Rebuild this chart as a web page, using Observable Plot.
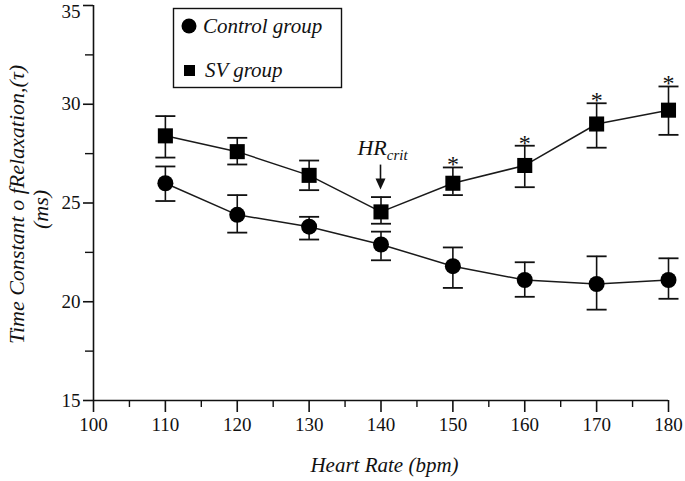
<!DOCTYPE html>
<html>
<head>
<meta charset="utf-8">
<script src="https://cdn.jsdelivr.net/npm/d3@7"></script>
<script src="https://cdn.jsdelivr.net/npm/@observablehq/plot@0.6"></script>
<style>
  html, body { margin: 0; padding: 0; background: #fff; }
  svg { display: block; }
  svg, svg text, svg tspan { font-family: "Liberation Serif", "Times New Roman", Times, serif !important; }
</style>
</head>
<body>
<div id="chart"></div>
<script>
// ---- data ----
const heartRate = [110, 120, 130, 140, 150, 160, 170, 180];
const controlMean = [26.0, 24.4, 23.8, 22.9, 21.8, 21.1, 20.9, 21.1];
const controlLo   = [25.1, 23.5, 23.15, 22.1, 20.7, 20.25, 19.6, 20.15];
const controlHi   = [26.85, 25.4, 24.3, 23.55, 22.75, 22.0, 22.3, 22.2];
const svMean = [28.4, 27.6, 26.4, 24.55, 26.0, 26.9, 29.0, 29.7];
const svLo   = [27.3, 26.95, 25.65, 23.95, 25.4, 25.8, 27.8, 28.45];
const svHi   = [29.4, 28.3, 27.15, 25.3, 26.8, 27.9, 30.05, 30.9];
const significant = [false, false, false, false, true, true, true, true];
const xTicks = [100, 110, 120, 130, 140, 150, 160, 170, 180];
const xMinor = [105, 115, 125, 135, 145, 155, 165, 175];
const yTicks = [15, 20, 25, 30];
const yTopTick = [35];
const yMinor = [17.5, 22.5, 27.5, 32.5];
const legendLabels = ["Control group", "SV group"];
const critHR = 140;

const control = heartRate.map((x, i) => ({x, y: controlMean[i], lo: controlLo[i], hi: controlHi[i]}));
const sv = heartRate.map((x, i) => ({x, y: svMean[i], lo: svLo[i], hi: svHi[i], sig: significant[i]}));

const FONT = "Liberation Serif";
const capSymbol = { draw(ctx) { ctx.moveTo(-10, 0); ctx.lineTo(10, 0); } };

function errorMarks(data) {
  return [
    Plot.ruleX(data, {x: "x", y1: "lo", y2: "hi", stroke: "#111", strokeWidth: 1.6}),
    Plot.dot(data, {x: "x", y: "lo", symbol: capSymbol, r: 5, stroke: "#111", strokeWidth: 1.8, fill: "none"}),
    Plot.dot(data, {x: "x", y: "hi", symbol: capSymbol, r: 5, stroke: "#111", strokeWidth: 1.8, fill: "none"})
  ];
}

const chart = Plot.plot({
  width: 685,
  height: 481,
  marginLeft: 93,
  marginRight: 17,
  marginTop: 5,
  marginBottom: 81,
  style: {fontFamily: FONT, fontSize: "19px", color: "#111", background: "#fff"},
  x: {domain: [100, 180], label: null},
  y: {domain: [15, 35], label: null},
  marks: [
    Plot.ruleX([100], {stroke: "#111", strokeWidth: 1.6}),
    Plot.ruleY([15], {stroke: "#111", strokeWidth: 1.6}),
    Plot.axisX(xTicks, {tickSize: 12, tickPadding: 5, fontSize: 19, fontFamily: FONT, strokeWidth: 1.6, label: null}),
    Plot.axisX(xMinor, {tickSize: 7, text: null, strokeWidth: 1.4, label: null}),
    Plot.axisY(yTicks, {tickSize: 10, tickPadding: 3, fontSize: 19, fontFamily: FONT, strokeWidth: 1.6, label: null}),
    Plot.axisY(yTopTick, {tickSize: 10, text: null, strokeWidth: 1.6, label: null}),
    Plot.axisY(yTopTick, {tickSize: 0, tickPadding: 3, fontSize: 19, fontFamily: FONT, dx: -10, dy: 6, label: null}),
    Plot.axisY(yMinor, {tickSize: 8, text: null, strokeWidth: 1.4, label: null}),
    ...errorMarks(control),
    ...errorMarks(sv),
    Plot.line(control, {x: "x", y: "y", stroke: "#1a1a1a", strokeWidth: 1.5}),
    Plot.line(sv, {x: "x", y: "y", stroke: "#1a1a1a", strokeWidth: 1.5}),
    Plot.dot(control, {x: "x", y: "y", r: 8, symbol: "circle", fill: "#000", stroke: "none"}),
    Plot.dot(sv, {x: "x", y: "y", r: 8.5, symbol: "square", fill: "#000", stroke: "none"}),
    Plot.text(sv.filter(d => d.sig), {x: "x", y: "hi", text: () => "*", dy: 5, lineAnchor: "bottom", fontSize: 24, fontFamily: FONT, fill: "#111"})
  ]
});

document.getElementById("chart").appendChild(chart);

// ---- annotations positioned through the chart's scales ----
const sx = chart.scale("x"), sy = chart.scale("y");
const svg = d3.select(chart);
const g = svg.append("g").attr("font-family", FONT).attr("fill", "#111");

// y axis title (two lines)
const yMid = (sy.apply(15) + sy.apply(35)) / 2 + 2;
g.append("text")
  .attr("transform", `translate(24,${yMid}) rotate(-90)`)
  .attr("text-anchor", "middle").attr("font-style", "italic").attr("font-size", 22)
  .text("Time Constant o fRelaxation,(\u03C4)");
g.append("text")
  .attr("transform", `translate(48,${yMid + 5}) rotate(-90)`)
  .attr("text-anchor", "middle").attr("font-style", "italic").attr("font-size", 22)
  .text("(ms)");

// x axis title
g.append("text")
  .attr("x", (sx.apply(100) + sx.apply(180)) / 2 + 4).attr("y", 472)
  .attr("text-anchor", "middle").attr("font-style", "italic").attr("font-size", 21)
  .text("Heart Rate (bpm)");

// HR crit annotation
const cx = sx.apply(critHR);
const capTop = sy.apply(svHi[heartRate.indexOf(critHR)]);
const t = g.append("text").attr("x", cx + 2).attr("y", capTop - 42)
  .attr("text-anchor", "middle").attr("font-style", "italic").attr("font-size", 22);
t.append("tspan").text("HR");
t.append("tspan").attr("font-size", 15).attr("dy", 5).text("crit");
g.append("line").attr("x1", cx).attr("x2", cx).attr("y1", capTop - 32).attr("y2", capTop - 14)
  .attr("stroke", "#111").attr("stroke-width", 1.6);
g.append("path")
  .attr("d", `M${cx - 5},${capTop - 18} L${cx + 5},${capTop - 18} L${cx},${capTop - 7} Z`)
  .attr("fill", "#111");

// legend
const lg = svg.append("g").attr("font-family", FONT).attr("text-anchor", "start");
lg.append("rect").attr("x", 173.5).attr("y", 8.5).attr("width", 168).attr("height", 79)
  .attr("fill", "#fff").attr("stroke", "#111").attr("stroke-width", 1.4);
lg.append("circle").attr("cx", 189).attr("cy", 26).attr("r", 7.5).attr("fill", "#000");
lg.append("rect").attr("x", 184).attr("y", 65).attr("width", 11).attr("height", 11).attr("fill", "#000");
lg.append("text").attr("x", 203).attr("y", 33).attr("font-style", "italic").attr("font-size", 21)
  .attr("text-anchor", "start").attr("fill", "#111").text(legendLabels[0]);
lg.append("text").attr("x", 205).attr("y", 77).attr("font-style", "italic").attr("font-size", 21)
  .attr("text-anchor", "start").attr("fill", "#111").text(legendLabels[1]);
</script>
</body>
</html>
